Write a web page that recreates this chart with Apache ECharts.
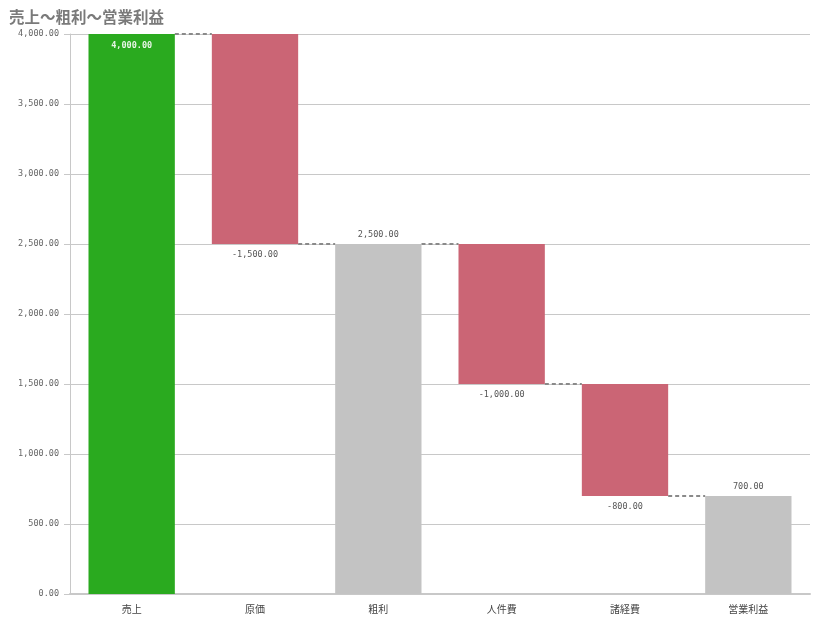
<!DOCTYPE html>
<html>
<head>
<meta charset="utf-8">
<script src="https://cdn.jsdelivr.net/npm/echarts@6/dist/echarts.min.js"></script>
<style>
  html, body { margin: 0; padding: 0; background: #fff; }
  #chart { width: 815px; height: 624px; }
</style>
</head>
<body>
<div id="chart"></div>
<script>
// データ
var categories = ['売上', '原価', '粗利', '人件費', '諸経費', '営業利益'];
var amounts = [4000, -1500, 2500, -1000, -800, 700];
// start: 開始値, delta: 増減, total: 小計
var kinds = ['start', 'delta', 'total', 'delta', 'delta', 'total'];
var yTicks = [0, 500, 1000, 1500, 2000, 2500, 3000, 3500, 4000];

var colors = { start: '#2aaa1f', delta: '#cb6575', total: '#c3c3c3' };

function fmt(v) {
    return v.toLocaleString('en-US', { minimumFractionDigits: 2, maximumFractionDigits: 2 });
}

// 透明の土台と表示するバーを作る
var baseData = [];
var barData = [];
var levels = [];
var running = 0;
for (var i = 0; i < amounts.length; i++) {
    var k = kinds[i];
    var v = amounts[i];
    if (k === 'delta') {
        var after = running + v;
        baseData.push(Math.min(running, after));
        barData.push({
            value: Math.abs(v), raw: v,
            itemStyle: { color: colors[k] },
            label: { show: true, position: 'bottom', distance: 6, color: '#555' }
        });
        running = after;
    } else {
        baseData.push(0);
        running = v;
        barData.push({
            value: v, raw: v,
            itemStyle: { color: colors[k] },
            label: k === 'start'
                ? { show: true, position: 'insideTop', distance: 7, color: '#e8f5e6', fontWeight: 'bold' }
                : { show: true, position: 'top', distance: 5, color: '#555' }
        });
    }
    levels.push(running);
}

// 連結線（次のバーまで）
var connectors = [];
for (var j = 0; j < levels.length - 1; j++) {
    connectors.push([j, levels[j]]);
}

var BAR_RATIO = 0.7;

var myChart = echarts.init(document.getElementById('chart'));
var option = {
    animation: false,
    title: {
        text: '売上〜粗利〜営業利益',
        left: 4,
        top: 4,
        textStyle: {
            fontFamily: 'Noto Sans CJK JP',
            fontSize: 15.5,
            fontWeight: 'bold',
            color: '#7a7a7a'
        }
    },
    grid: { left: 70, right: 5, top: 34, bottom: 30 },
    xAxis: {
        type: 'category',
        data: categories,
        axisLine: { lineStyle: { color: '#c8c8c8', width: 2 } },
        axisTick: { show: false },
        axisLabel: {
            margin: 10,
            fontFamily: 'Noto Sans CJK JP',
            fontSize: 10,
            color: '#444'
        }
    },
    yAxis: {
        type: 'value',
        min: 0,
        max: yTicks[yTicks.length - 1],
        interval: yTicks[1] - yTicks[0],
        axisLine: { show: true, lineStyle: { color: '#c8c8c8' } },
        axisTick: { show: true, length: 6, lineStyle: { color: '#c8c8c8' } },
        splitLine: { lineStyle: { color: '#c8c8c8' } },
        axisLabel: {
            margin: 11,
            fontFamily: 'DejaVu Sans Mono',
            fontSize: 8.5,
            color: '#666',
            formatter: function (v) { return fmt(v); }
        }
    },
    series: [
        {
            type: 'bar',
            stack: 'wf',
            barWidth: (BAR_RATIO * 100) + '%',
            itemStyle: { color: 'transparent' },
            emphasis: { disabled: true },
            data: baseData,
            silent: true
        },
        {
            type: 'bar',
            stack: 'wf',
            barWidth: (BAR_RATIO * 100) + '%',
            data: barData,
            label: {
                fontFamily: 'DejaVu Sans Mono',
                fontSize: 8.5,
                formatter: function (p) { return fmt(p.data.raw); }
            }
        },
        {
            type: 'custom',
            silent: true,
            data: connectors,
            renderItem: function (params, api) {
                var p = api.coord([api.value(0), api.value(1)]);
                var band = api.size([1, 0])[0];
                var half = band * BAR_RATIO / 2;
                var y = Math.round(p[1]);
                return {
                    type: 'line',
                    shape: { x1: p[0] + half, y1: y, x2: p[0] + band - half, y2: y },
                    style: { stroke: '#8a8a8a', lineWidth: 2, lineDash: [4, 3] }
                };
            }
        }
    ]
};
myChart.setOption(option);
</script>
</body>
</html>
